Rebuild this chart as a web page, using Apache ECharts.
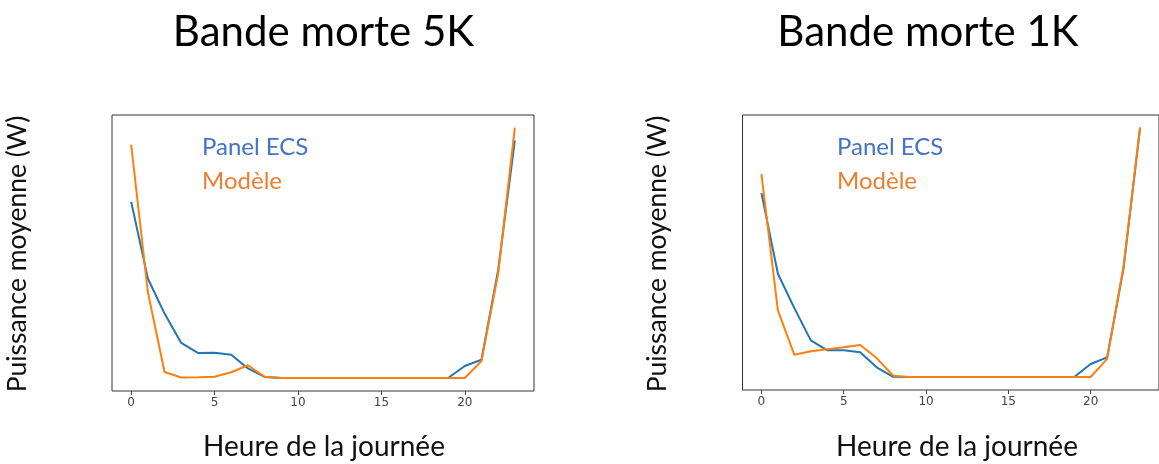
<!DOCTYPE html>
<html>
<head>
<meta charset="utf-8">
<script src="https://cdn.jsdelivr.net/npm/echarts@6/dist/echarts.min.js"></script>
<style>
html,body{margin:0;padding:0;background:#fff;}
#chart{width:1159px;height:464px;}
</style>
</head>
<body>
<div id="chart"></div>
<script>
// Hours of the day
const hours = [0,1,2,3,4,5,6,7,8,9,10,11,12,13,14,15,16,17,18,19,20,21,22,23];
const xTickValues = [0,5,10,15,20];

// Left panel: Bande morte 5K (relative units, axis values are hidden)
const ecs5K    = [70.3,39.7,25.7,14.0,10.0,10.1,9.3,3.8,0.4,0,0,0,0,0,0,0,0,0,0,0,4.8,7.3,43,94.9];
const modele5K = [93.2,34.3,2.4,0.2,0.3,0.5,2.3,5.1,0.5,0,0,0,0,0,0,0,0,0,0,0,0,6.8,41.7,100];

// Right panel: Bande morte 1K
const ecs1K    = [73.7,41.4,27.6,14.7,10.7,10.7,9.9,3.9,0.1,0,0,0,0,0,0,0,0,0,0,0,5.2,7.9,43.7,99.8];
const modele1K = [81.3,26.7,8.9,10.3,11.1,11.9,12.8,7.6,0.5,0,0,0,0,0,0,0,0,0,0,0,0,7.3,44.5,100];

const titles = ['Bande morte 5K','Bande morte 1K'];
const yTitle = 'Puissance moyenne (W)';
const xTitle = 'Heure de la journée';
const legendNames = ['Panel ECS','Modèle'];

const FONT = 'Lato';
const lineBlue = '#1f77b4', lineOrange = '#ff7f0e';
const txtBlue = '#4472C4', txtOrange = '#ED7D31';

const zip = (xs, ys) => xs.map((x,i)=>[x, ys[i]]);

const grids = [
  {left:112, top:115, width:422, height:276},
  {left:742.5, top:115, width:424, height:275}
];

function xAxis(i){
  return {
    gridIndex:i, type:'value', min:-1.15, max:24.15,
    axisLine:{show:false, onZero:false},
    splitLine:{show:false},
    axisTick:{show:true, customValues:xTickValues, length:4, lineStyle:{color:'#444'}},
    axisLabel:{show:true, customValues:xTickValues, color:'#444', fontSize:12, fontFamily:'DejaVu Sans', margin:6}
  };
}
function yAxis(i){
  return {gridIndex:i, type:'value', min:-5.2, max:105,
    axisLine:{show:false}, axisTick:{show:false}, axisLabel:{show:false}, splitLine:{show:false}};
}
function line(name, data, color, i){
  return {name, type:'line', xAxisIndex:i, yAxisIndex:i, data, showSymbol:false, symbol:'none',
    lineStyle:{color, width:2}, itemStyle:{color}, animation:false, z:3};
}

const centers = [{title:323.5, xt:324, yt:17, leg:202}, {title:928, xt:957, yt:657, leg:837}];
const graphic = [];
centers.forEach((c,i)=>{
  graphic.push({type:'text', x:c.title, y:32, style:{text:titles[i], font:'42px '+FONT, fill:'#000', align:'center', verticalAlign:'middle'}});
  graphic.push({type:'text', x:c.xt, y:447, style:{text:xTitle, font:'28px '+FONT, fill:'#111', align:'center', verticalAlign:'middle'}});
  graphic.push({type:'text', x:c.yt, y:254, rotation:Math.PI/2, style:{text:yTitle, font:'26.5px '+FONT, fill:'#111', align:'center', verticalAlign:'middle'}});
  graphic.push({type:'text', x:c.leg, y:147, style:{text:legendNames[0], font:'24px '+FONT, fill:txtBlue, verticalAlign:'middle'}});
  graphic.push({type:'text', x:c.leg, y:181, style:{text:legendNames[1], font:'24px '+FONT, fill:txtOrange, verticalAlign:'middle'}});
});

const chart = echarts.init(document.getElementById('chart'));
chart.setOption({
  animation:false,
  grid: grids.map(g=>Object.assign({show:true, borderColor:'#333', borderWidth:1, backgroundColor:'transparent'}, g)),
  xAxis:[xAxis(0), xAxis(1)],
  yAxis:[yAxis(0), yAxis(1)],
  series:[
    line(legendNames[0], zip(hours, ecs5K), lineBlue, 0),
    line(legendNames[1], zip(hours, modele5K), lineOrange, 0),
    line(legendNames[0], zip(hours, ecs1K), lineBlue, 1),
    line(legendNames[1], zip(hours, modele1K), lineOrange, 1)
  ],
  graphic
});
</script>
</body>
</html>
